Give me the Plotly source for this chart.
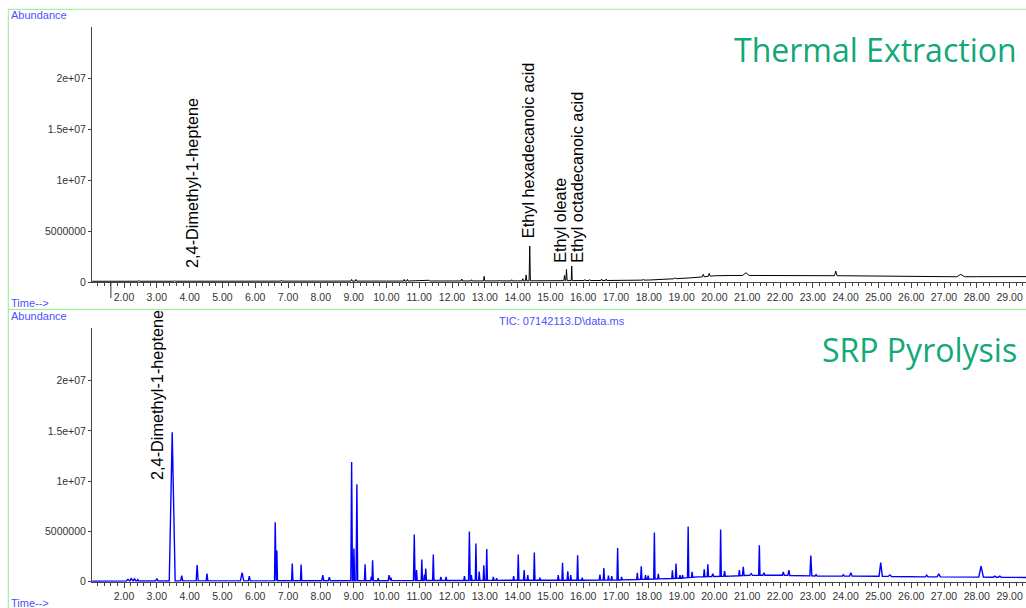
import numpy as np
import plotly.graph_objects as go

# ---------------- Thermal extraction TIC (upper trace) ----------------
te_base_rt = [1.03, 5.0, 10.0, 14.0, 16.0, 17.0, 18.0, 18.6, 19.2, 19.6, 20.0, 20.5,
              21.3, 22.0, 23.0, 24.0, 25.0, 26.0, 27.0, 28.0, 29.5]
te_base_ab = [0.8e5, 0.9e5, 1.0e5, 1.2e5, 1.5e5, 1.6e5, 2.0e5, 3.0e5, 4.0e5, 5.0e5, 6.2e5, 6.5e5,
              6.5e5, 6.4e5, 6.4e5, 6.2e5, 5.8e5, 5.4e5, 5.2e5, 5.3e5, 5.4e5]

te_peak_rt = [2.45, 3.55, 5.10, 6.80, 8.94, 9.07, 10.54, 10.64, 11.30, 12.30, 12.60, 12.98,
              13.45, 13.82, 14.16, 14.26, 14.37, 15.43, 15.49, 15.65, 16.05, 16.20, 16.56,
              16.70, 17.83, 18.65, 18.80, 19.66, 19.84, 20.73, 20.96, 23.70, 27.51]
te_peak_ab = [1.6e5, 1.5e5, 1.4e5, 1.8e5, 2.6e5, 2.6e5, 2.6e5, 2.6e5, 1.8e5, 3.0e5, 2.3e5, 5.6e5,
              2.0e5, 2.3e5, 3.3e5, 7.0e5, 3.54e6, 6.5e5, 1.25e6, 1.57e6, 2.5e5, 2.5e5, 3.0e5,
              3.0e5, 2.8e5, 3.8e5, 4.2e5, 7.6e5, 8.5e5, 7.2e5, 9.2e5, 1.08e6, 7.6e5]
te_peak_hw = [0.02, 0.02, 0.02, 0.02, 0.02, 0.02, 0.02, 0.02, 0.02, 0.02, 0.02, 0.02,
              0.02, 0.02, 0.02, 0.02, 0.02, 0.02, 0.02, 0.015, 0.02, 0.02, 0.02,
              0.02, 0.02, 0.03, 0.04, 0.03, 0.03, 0.03, 0.10, 0.04, 0.12]

# ---------------- SRP pyrolysis TIC (lower trace) ----------------
py_base_rt = [1.03, 2.0, 4.0, 6.0, 8.0, 10.0, 12.0, 14.0, 15.0, 16.0, 17.0, 18.0, 19.0,
              19.5, 20.5, 21.0, 22.0, 22.5, 23.5, 24.5, 25.5, 26.5, 27.5, 28.5, 29.5]
py_base_ab = [5e4, 6e4, 8e4, 8e4, 1.0e5, 1.0e5, 1.2e5, 1.4e5, 1.5e5, 1.5e5, 1.6e5, 2.5e5, 3.5e5,
              4.8e5, 5.5e5, 6.3e5, 6.5e5, 6.0e5, 5.5e5, 5.5e5, 5.2e5, 4.8e5, 4.8e5, 4.4e5, 4.2e5]

py_peak_rt = [2.12, 2.22, 2.32, 2.42, 3.00, 3.47, 3.76, 4.23, 4.53, 5.60, 5.82, 6.61, 6.66,
              7.13, 7.40, 8.06, 8.26, 8.94, 9.01, 9.10, 9.35, 9.54, 9.58, 9.75, 10.08, 10.14,
              10.85, 10.92, 11.08, 11.16, 11.20, 11.43, 11.66, 11.82, 12.38, 12.53, 12.59,
              12.73, 12.83, 12.97, 13.06, 13.26, 13.36, 13.88, 14.02, 14.20, 14.31, 14.51,
              14.68, 15.24, 15.37, 15.53, 15.62, 15.83, 15.97, 16.51, 16.63, 16.77, 16.87,
              17.05, 17.17, 17.65, 17.77, 17.90, 17.98, 18.17, 18.29, 18.72, 18.83, 18.95,
              19.03, 19.20, 19.32, 19.69, 19.80, 19.95, 20.19, 20.31, 20.76, 20.88, 21.12,
              21.37, 21.51, 22.10, 22.27, 22.94, 23.10, 23.93, 24.16, 25.07, 25.35, 26.47,
              26.84, 28.13, 28.55, 28.70]
py_peak_ab = [2.2e5, 3.2e5, 3.0e5, 2.2e5, 3.0e5, 1.485e7, 6.0e5, 1.65e6, 8.0e5, 9.0e5, 5.5e5, 5.9e6, 3.1e6,
              1.8e6, 1.7e6, 6.5e5, 4.5e5, 1.19e7, 3.3e6, 9.7e6, 1.74e6, 5.0e5, 2.14e6, 3.5e5, 6.5e5, 4.0e5,
              4.7e6, 1.15e6, 2.2e6, 7.0e5, 1.3e6, 2.7e6, 4.8e5, 4.8e5, 5.5e5, 5.0e6, 6.5e5,
              3.8e6, 1.0e6, 1.64e6, 3.26e6, 4.8e5, 3.5e5, 5.5e5, 2.7e6, 1.15e6, 6.5e5, 2.9e6,
              4.0e5, 6.5e5, 1.87e6, 1.04e6, 6.5e5, 2.64e6, 4.0e5, 7.0e5, 1.37e6, 6.0e5, 5.5e5,
              3.36e6, 4.8e5, 8.8e5, 1.54e6, 6.5e5, 6.0e5, 4.9e6, 7.8e5, 1.14e6, 1.8e6, 6.5e5,
              6.5e5, 5.5e6, 9.8e5, 1.24e6, 1.74e6, 8.0e5, 5.2e6, 1.05e6, 1.15e6, 1.47e6, 8.0e5,
              3.63e6, 8.8e5, 9.8e5, 1.15e6, 2.6e6, 7.0e5, 7.0e5, 9.0e5, 1.9e6, 6.8e5, 6.5e5,
              7.8e5, 1.54e6, 5.5e5, 5.5e5]
py_peak_hw = [0.05, 0.04, 0.04, 0.03, 0.04, 0.09, 0.03, 0.03, 0.025, 0.05, 0.03, 0.02, 0.02,
              0.02, 0.02, 0.03, 0.03, 0.025, 0.02, 0.025, 0.02, 0.02, 0.02, 0.02, 0.025, 0.02,
              0.025, 0.02, 0.02, 0.02, 0.02, 0.02, 0.02, 0.02, 0.02, 0.025, 0.02,
              0.02, 0.02, 0.02, 0.02, 0.02, 0.02, 0.02, 0.02, 0.02, 0.02, 0.02,
              0.02, 0.02, 0.02, 0.02, 0.02, 0.02, 0.02, 0.02, 0.02, 0.02, 0.02,
              0.02, 0.02, 0.02, 0.02, 0.02, 0.02, 0.02, 0.02, 0.02, 0.02, 0.02,
              0.02, 0.02, 0.02, 0.02, 0.02, 0.03, 0.02, 0.025, 0.02, 0.025, 0.04,
              0.02, 0.03, 0.03, 0.03, 0.03, 0.03, 0.03, 0.04, 0.05, 0.05, 0.04,
              0.05, 0.07, 0.05, 0.05]

# Compound labels: (text, retention time, abundance at the foot of the label)
te_labels = [("2,4-Dimethyl-1-heptene", 4.07, 1.18e6),
             ("Ethyl hexadecanoic acid", 14.32, 4.13e6),
             ("Ethyl oleate", 15.27, 1.67e6),
             ("Ethyl octadecanoic acid", 15.81, 1.74e6)]
py_labels = [("2,4-Dimethyl-1-heptene", 3.01, 9.93e6)]

y_tick_vals = [0, 5e6, 1e7, 1.5e7, 2e7]
y_tick_text = ["0", "5000000", "1e+07", "1.5e+07", "2e+07"]

W, H = 1026, 608
# vertical layout unit: the page is laid out on a slightly shorter grid
H_GRID = 601.8


def px(x):
    return x / W


def py(y):
    return 1 - y / H_GRID


def trace_points(base_rt, base_ab, pk_rt, pk_ab, pk_hw):
    """Baseline vertices plus a narrow spike for every peak."""
    base_rt = np.asarray(base_rt, float)
    base_ab = np.asarray(base_ab, float)
    pts = []
    spans = []
    for r, a, w in zip(pk_rt, pk_ab, pk_hw):
        lo, hi = r - w, r + w
        spans.append((lo, hi))
        pts.append((lo, float(np.interp(lo, base_rt, base_ab))))
        pts.append((r, a))
        pts.append((hi, float(np.interp(hi, base_rt, base_ab))))
    for r, a in zip(base_rt, base_ab):
        if not any(lo <= r <= hi for lo, hi in spans):
            pts.append((r, a))
    pts.sort(key=lambda p: p[0])
    xs, ys = zip(*pts)
    return list(xs), list(ys)


fig = go.Figure()

tx, ty = trace_points(te_base_rt, te_base_ab, te_peak_rt, te_peak_ab, te_peak_hw)
fig.add_trace(go.Scatter(x=tx, y=ty, mode="lines", line=dict(color="#000000", width=1),
                         xaxis="x", yaxis="y", hoverinfo="skip", showlegend=False))

bx, by = trace_points(py_base_rt, py_base_ab, py_peak_rt, py_peak_ab, py_peak_hw)
fig.add_trace(go.Scatter(x=bx, y=by, mode="lines", line=dict(color="#0000ff", width=1.4),
                         xaxis="x2", yaxis="y2", hoverinfo="skip", showlegend=False))

tick_font = dict(family="Arial, Liberation Sans, sans-serif", size=10.5, color="#333333")
axis_col = "#444444"
x_range = [1.0244, 29.5]

xax = dict(range=x_range, domain=[px(92), 1], showline=True, linecolor=axis_col, linewidth=1,
           ticks="outside", ticklen=5, tickwidth=1, tickcolor=axis_col, dtick=1, tick0=0,
           tickformat=".2f", tickfont=tick_font, showgrid=False, zeroline=False,
           minor=dict(dtick=0.2, tick0=0, ticks="outside", ticklen=3, tickcolor=axis_col,
                      showgrid=False))
yax = dict(showline=True, linecolor=axis_col, linewidth=1, ticks="outside", ticklen=3,
           tickcolor=axis_col, tickvals=y_tick_vals, ticktext=y_tick_text, tickfont=tick_font,
           showgrid=False, zeroline=False)

fig.update_layout(
    width=W, height=H, margin=dict(l=0, r=0, t=0, b=0),
    paper_bgcolor="white", plot_bgcolor="white",
    xaxis=dict(xax, anchor="y"),
    yaxis=dict(yax, domain=[py(282), py(27)], range=[0, 2.506e7], anchor="x"),
    xaxis2=dict(xax, anchor="y2"),
    yaxis2=dict(yax, domain=[py(581.5), py(328)], range=[0, 2.522e7], anchor="x2"),
)

# Frame lines around the report panels
frame_col = "#8fef8f"
shapes = [
    dict(type="line", xref="paper", yref="paper", x0=px(8), x1=1, y0=py(9.3), y1=py(9.3)),
    dict(type="line", xref="paper", yref="paper", x0=px(8.3), x1=px(8.3), y0=py(9.3), y1=py(612)),
    dict(type="line", xref="paper", yref="paper", x0=px(8), x1=1, y0=py(309.3), y1=py(309.3)),
]
for s in shapes:
    s["line"] = dict(color=frame_col, width=1)
# start-of-run marker below the upper time axis
shapes.append(dict(type="line", xref="x", yref="paper", x0=1.60, x1=1.60, y0=py(282), y1=py(298),
                   line=dict(color="#333333", width=1)))
fig.update_layout(shapes=shapes)

blue = "#5050ff"
small_font = dict(family="Arial, Liberation Sans, sans-serif", size=11, color=blue)
ann = []
for ylab in (15, 316):
    ann.append(dict(text="Abundance", x=px(9), y=py(ylab), xref="paper", yref="paper",
                    xanchor="left", yanchor="middle", showarrow=False, font=small_font))
for ylab in (302.7, 603):
    ann.append(dict(text="Time-->", x=px(9), y=py(ylab), xref="paper", yref="paper",
                    xanchor="left", yanchor="middle", showarrow=False, font=small_font))
ann.append(dict(text="TIC: 07142113.D\\data.ms", x=px(562), y=py(321), xref="paper", yref="paper",
                xanchor="center", yanchor="middle", showarrow=False, font=small_font))

title_font = dict(family="Open Sans, sans-serif", size=32, color="#12a878")
ann.append(dict(text="Thermal Extraction", x=px(1019), y=py(49), xref="paper", yref="paper",
                xanchor="right", yanchor="middle", showarrow=False, font=title_font))
ann.append(dict(text="SRP Pyrolysis", x=px(1019), y=py(349), xref="paper", yref="paper",
                xanchor="right", yanchor="middle", showarrow=False, font=title_font))

label_font = dict(family="Arial, Liberation Sans, sans-serif", size=16.3, color="#000000")
for text, rt, ab in te_labels:
    ann.append(dict(text=text, x=rt, y=ab, xref="x", yref="y", textangle=-90,
                    xanchor="center", yanchor="bottom", showarrow=False, font=label_font))
for text, rt, ab in py_labels:
    ann.append(dict(text=text, x=rt, y=ab, xref="x2", yref="y2", textangle=-90,
                    xanchor="center", yanchor="bottom", showarrow=False, font=label_font))
fig.update_layout(annotations=ann)

fig.write_html("out.html")
